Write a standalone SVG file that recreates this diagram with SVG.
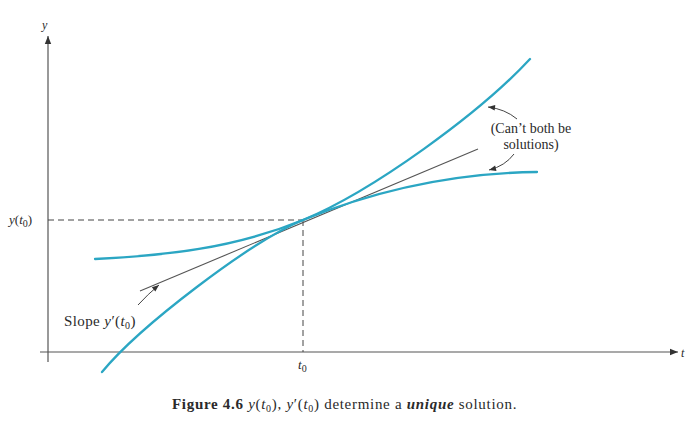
<svg xmlns="http://www.w3.org/2000/svg" width="700" height="423" viewBox="0 0 700 423">
<style>
.txt{font-family:"Liberation Serif","Times New Roman",serif;fill:#2a2a2a}
.s12{font-size:12px}
.s13{font-size:13px}
.s14{font-size:14px}
.slope{font-size:15px;letter-spacing:0.4px}
.cap{font-size:15px;letter-spacing:0.7px}
.it{font-style:italic}
.sub{font-size:10px}
.axis{stroke:#555;stroke-width:1.2;fill:none}
.dash{stroke:#444;stroke-width:1;stroke-dasharray:6 4;fill:none}
.sol{stroke:#2ba6c3;stroke-width:2.3;fill:none;stroke-linecap:round}
.tan{stroke:#555;stroke-width:1.1;fill:none}
.ann{stroke:#444;stroke-width:1;fill:none}
</style>
<defs>
<marker id="axarr" viewBox="0 0 10 10" refX="10" refY="5" markerWidth="8" markerHeight="8" markerUnits="userSpaceOnUse" orient="auto">
<path d="M0,1 L10,5 L0,9 Z" fill="#333"/>
</marker>
<marker id="annarr" viewBox="0 0 10 10" refX="10" refY="5" markerWidth="8" markerHeight="7" markerUnits="userSpaceOnUse" orient="auto">
<path d="M0,1 L10,5 L0,9 Z" fill="#333"/>
</marker>
</defs>
<rect width="700" height="423" fill="#fff"/>
<g id="axes">
<line class="axis" x1="48" y1="362" x2="48" y2="36" marker-end="url(#axarr)"/>
<line class="axis" x1="40" y1="352" x2="678" y2="352" marker-end="url(#axarr)"/>
<text class="txt s12 it" x="42" y="29">y</text>
<text class="txt s12 it" x="681" y="357">t</text>
</g>
<g id="connectors">
<line class="dash" x1="48" y1="220" x2="303" y2="220"/>
<line class="dash" x1="303" y1="220" x2="303" y2="352"/>
<line class="tan" x1="140" y1="291" x2="478" y2="149"/>
<path class="ann" d="M138,305 Q148,294 159,285" marker-end="url(#annarr)"/>
<path class="ann" d="M517,119 Q505,109 488,107" marker-end="url(#annarr)"/>
<path class="ann" d="M514,154 Q505,166 489,170" marker-end="url(#annarr)"/>
</g>
<g id="curve-steep">
<path class="sol" d="M102,372 C140,326 250,242 303,220 C373,191 480,113 530,59"/>
</g>
<g id="curve-flat">
<path class="sol" d="M95,259 C165,255.5 233,248.7 303,220 C381,188 459,173 537,172"/>
</g>
<g id="labels">
<text class="txt s13" x="9" y="224"><tspan class="it">y</tspan>(<tspan class="it">t</tspan><tspan class="sub" dy="3">0</tspan><tspan dy="-3">)</tspan></text>
<text class="txt s13" x="298" y="369"><tspan class="it">t</tspan><tspan class="sub" dy="3">0</tspan></text>
<text class="txt slope" x="64" y="326">Slope <tspan class="it">y</tspan>′(<tspan class="it">t</tspan><tspan class="sub" dy="3">0</tspan><tspan dy="-3">)</tspan></text>
<text class="txt s14" x="531" y="133" text-anchor="middle">(Can’t both be</text>
<text class="txt s14" x="531" y="149" text-anchor="middle">solutions)</text>
<text class="txt cap" x="172" y="409"><tspan font-weight="bold">Figure 4.6</tspan> <tspan class="it">y</tspan>(<tspan class="it">t</tspan><tspan class="sub" dy="3">0</tspan><tspan dy="-3">), </tspan><tspan class="it">y</tspan>′(<tspan class="it">t</tspan><tspan class="sub" dy="3">0</tspan><tspan dy="-3">) determine a </tspan><tspan font-weight="bold" font-style="italic">unique</tspan> solution.</text>
</g>
</svg>
